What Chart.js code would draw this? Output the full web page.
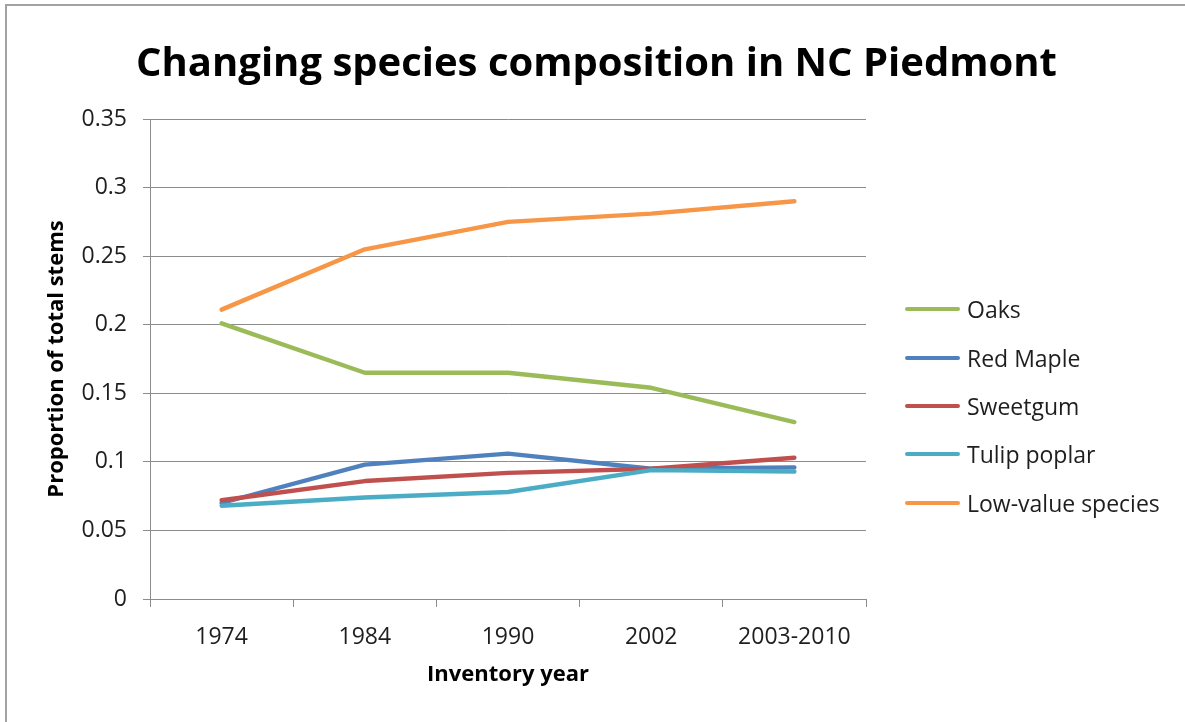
<!DOCTYPE html>
<html>
<head>
<meta charset="utf-8">
<title>Changing species composition in NC Piedmont</title>
<script src="https://cdn.jsdelivr.net/npm/chart.js@4/dist/chart.umd.min.js"></script>
<style>
  html, body { margin: 0; padding: 0; background: #ffffff; overflow: hidden; }
  #frame { position: relative; width: 1185px; height: 722px; overflow: hidden; background: #ffffff; }
  #frame::before { content: ""; position: absolute; left: 5px; top: 4px; width: 1200px; height: 740px;
    border-left: 2px solid #a3a3a3; border-top: 2px solid #a3a3a3; pointer-events: none; }
  #chart { position: absolute; left: 0; top: 0; }
  #legend { position: absolute; left: 905px; top: 0; margin: 0; padding: 0; list-style: none;
    font-family: "Open Sans", sans-serif; font-size: 23px; color: #1e1e1e; }
  #legend li { position: absolute; left: 0; display: flex; align-items: center; white-space: nowrap; }
  #legend .swatch { display: inline-block; width: 55px; height: 4px; border-radius: 2px; margin-right: 7px; }
</style>
</head>
<body>
<div id="frame">
  <canvas id="chart" width="1185" height="722"></canvas>
  <ul id="legend"></ul>
</div>
<script>
// Inventory years on the x axis
const categories = ['1974', '1984', '1990', '2002', '2003-2010'];

// Proportion of total stems, per species group
const oaks        = [0.201, 0.165, 0.165, 0.154, 0.129];
const redMaple    = [0.070, 0.098, 0.106, 0.095, 0.096];
const sweetgum    = [0.072, 0.086, 0.092, 0.095, 0.103];
const tulipPoplar = [0.068, 0.074, 0.078, 0.094, 0.093];
const lowValue    = [0.211, 0.255, 0.275, 0.281, 0.290];

const seriesNames = ['Oaks', 'Red Maple', 'Sweetgum', 'Tulip poplar', 'Low-value species'];
const seriesColors = ['#9BBB59', '#4F81BD', '#C0504D', '#4BACC6', '#F79646'];
const seriesValues = [oaks, redMaple, sweetgum, tulipPoplar, lowValue];

// Y axis tick labels, bottom to top
const yTickLabels = ['0', '0.05', '0.1', '0.15', '0.2', '0.25', '0.3', '0.35'];

const gridColor = '#8c8c8c';
const textColor = '#1e1e1e';
const font = 'Open Sans';

// Later series are painted over earlier ones
const datasets = seriesValues.map((values, i) => ({
  label: seriesNames[i],
  data: values,
  borderColor: seriesColors[i],
  backgroundColor: seriesColors[i],
  borderWidth: 4.4,
  borderCapStyle: 'round',
  borderJoinStyle: 'round',
  pointRadius: 0,
  pointHoverRadius: 0,
  tension: 0,
  fill: false,
  order: seriesValues.length - i
}));

// Legend list built from the chart's datasets, one row per series
const legendRows = [309, 357.5, 406, 454, 502.5];
const htmlLegend = {
  id: 'htmlLegend',
  afterUpdate(chart) {
    const list = document.getElementById('legend');
    list.innerHTML = '';
    chart.data.datasets.forEach((ds, i) => {
      const li = document.createElement('li');
      li.style.top = (legendRows[i] - 16) + 'px';
      li.style.height = '32px';
      const sw = document.createElement('span');
      sw.className = 'swatch';
      sw.style.background = ds.borderColor;
      const tx = document.createElement('span');
      tx.textContent = ds.label;
      li.appendChild(sw);
      li.appendChild(tx);
      list.appendChild(li);
    });
  }
};

// The title is centred across the whole figure, not just the plot column
const wideTitle = {
  id: 'wideTitle',
  afterLayout(chart) {
    const t = chart.titleBlock;
    if (t) { t.left = 8; t.right = chart.width; t.width = t.right - t.left; }
  }
};

new Chart(document.getElementById('chart'), {
  type: 'line',
  data: { labels: categories, datasets },
  plugins: [htmlLegend, wideTitle],
  options: {
    responsive: false,
    animation: false,
    events: [],
    layout: { padding: { left: 8, right: 319, top: 0, bottom: 0 } },
    plugins: {
      legend: { display: false },
      tooltip: { enabled: false },
      title: {
        display: true,
        text: 'Changing species composition in NC Piedmont',
        color: '#000000',
        font: { family: font, size: 40, weight: 'bold', lineHeight: 1.2 },
        padding: { top: 41, bottom: 30 }
      }
    },
    scales: {
      x: {
        offset: true,
        grid: { display: true, offset: true, drawOnChartArea: false, color: gridColor, tickLength: 8, tickColor: gridColor },
        border: { display: true, color: gridColor, width: 1 },
        ticks: { color: textColor, font: { family: font, size: 23 }, padding: 17, maxRotation: 0, autoSkip: false },
        title: {
          display: true,
          text: 'Inventory year',
          color: '#000000',
          font: { family: font, size: 22, weight: 'bold', lineHeight: 1.2 },
          padding: { top: 34, bottom: 34 }
        },
        afterFit(scale) { scale.height = 123; }
      },
      y: {
        min: 0,
        max: 0.35,
        ticks: {
          stepSize: 0.05,
          color: textColor,
          font: { family: font, size: 23 },
          padding: 16,
          callback: (value, index) => yTickLabels[index]
        },
        grid: { color: gridColor, lineWidth: 1, tickLength: 7, tickColor: gridColor },
        border: { display: true, color: gridColor, width: 1 },
        title: {
          display: true,
          text: 'Proportion of total stems',
          color: '#000000',
          font: { family: font, size: 22, weight: 'bold', lineHeight: 1.2 },
          padding: { top: 36, bottom: 0 }
        },
        afterFit(scale) { scale.width = 142; }
      }
    }
  }
});
</script>
</body>
</html>
